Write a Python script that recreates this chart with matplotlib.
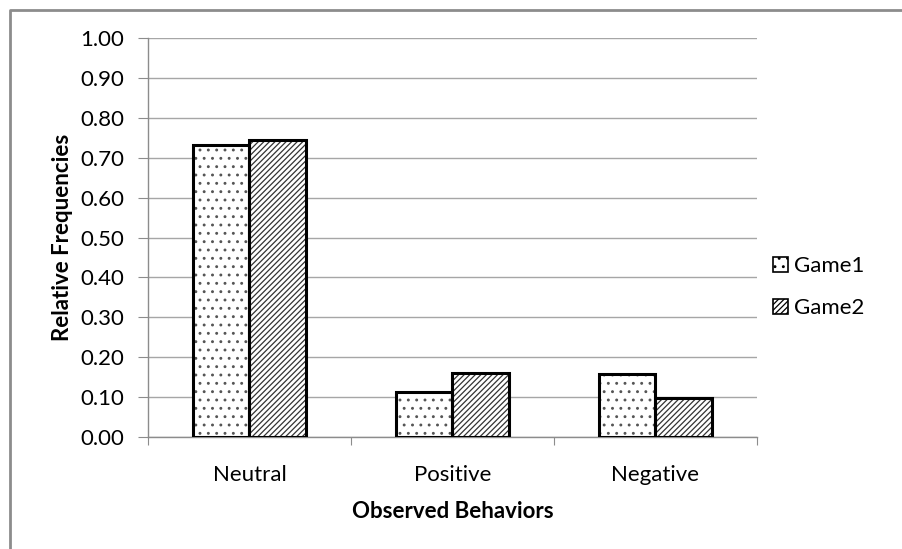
import matplotlib
matplotlib.use("Agg")
import matplotlib.pyplot as plt
import numpy as np
from matplotlib.lines import Line2D
from matplotlib.patches import Patch

categories = ["Neutral", "Positive", "Negative"]
game1 = [0.732, 0.113, 0.157]
game2 = [0.744, 0.160, 0.098]
series_names = ["Game1", "Game2"]
yticks = [0.0, 0.1, 0.2, 0.3, 0.4, 0.5, 0.6, 0.7, 0.8, 0.9, 1.0]

plt.rcParams['font.family'] = ['Lato', 'DejaVu Sans']
plt.rcParams['hatch.linewidth'] = 0.9
FS = 16

fig = plt.figure(figsize=(9.03, 5.49), dpi=100)
# outer frame (only top and left edges visible)
fig.add_artist(Line2D([10/903, 10/903, 1.0], [0.0, 1-10/549, 1-10/549], transform=fig.transFigure,
                      color="#8c8c8c", linewidth=2))
ax = fig.add_axes([148/903, 1-437/549, 609/903, 399/549])

x = np.arange(len(categories))
w = 0.28
hatches = ["..", "//////"]
hatch_colors = ["#555555", "#333333"]
for i, vals in enumerate([game1, game2]):
    pos = x + (i - 0.5) * w
    ax.bar(pos, vals, w, color="white", edgecolor=hatch_colors[i], hatch=hatches[i], linewidth=0, zorder=3)
    ax.bar(pos, vals, w, fill=False, edgecolor="black", linewidth=2.2, zorder=4, label=series_names[i])

ax.set_xlim(-0.5, 2.5)
ax.set_ylim(0, 1.0)
ax.set_yticks(yticks)
ax.set_yticklabels([f"{v:.2f}" for v in yticks], fontsize=FS)
ax.set_xticks([-0.5, 0.5, 1.5, 2.5])
ax.set_xticklabels([])
ax.set_xticks(x, minor=True)
ax.set_xticklabels(categories, minor=True, fontsize=FS)
ax.tick_params(axis="x", which="minor", length=0, pad=20)
ax.tick_params(axis="x", which="major", length=6, color="#8c8c8c", direction="out")
ax.tick_params(axis="y", length=7, color="#8c8c8c", direction="out", pad=10)
ax.yaxis.grid(True, color="#a6a6a6", linewidth=1, zorder=0)
ax.set_axisbelow(True)
for s in ["top", "right"]:
    ax.spines[s].set_visible(False)
for s in ["left", "bottom"]:
    ax.spines[s].set_color("#8c8c8c")
    ax.spines[s].set_linewidth(1)

ax.set_ylabel("Relative Frequencies", fontsize=FS, fontweight="bold", labelpad=5)
ax.set_xlabel("Observed Behaviors", fontsize=FS, fontweight="bold", labelpad=12)

handles = [Patch(facecolor="white", edgecolor="black", hatch=hatches[0], linewidth=1.2, label=series_names[0]),
           Patch(facecolor="white", edgecolor="black", hatch=hatches[1], linewidth=1.2, label=series_names[1])]
leg = ax.legend(handles=handles, loc="center left", bbox_to_anchor=(1.0, 0.375), frameon=False, fontsize=FS,
                handlelength=0.7, handleheight=0.7, handletextpad=0.25, labelspacing=1.0, borderaxespad=0.3)

fig.savefig("out.png", dpi=100)
